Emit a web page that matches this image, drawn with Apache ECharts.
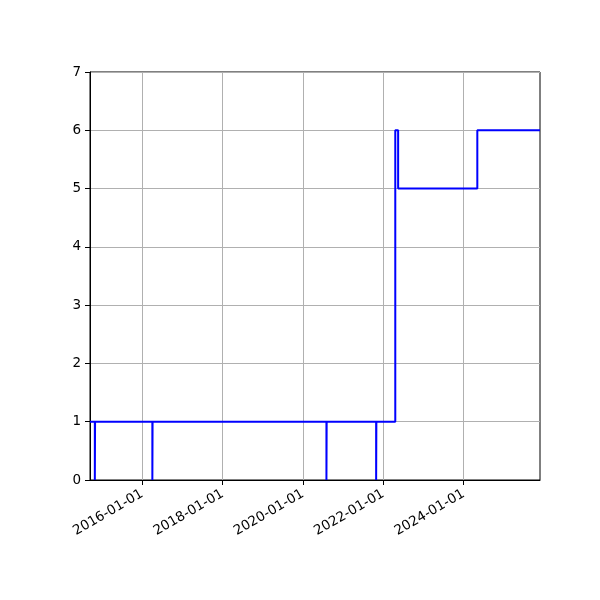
<!DOCTYPE html>
<html>
<head>
<meta charset="utf-8">
<script src="https://cdn.jsdelivr.net/npm/echarts@6/dist/echarts.min.js"></script>
<style>html,body{margin:0;padding:0;background:#fff}#c{width:600px;height:600px}</style>
</head>
<body>
<div id="c"></div>
<script>
const dates = ['2014-09-13','2014-10-27','2014-10-29','2016-04-02','2016-04-04','2020-08-02','2020-08-04','2021-10-28','2021-10-30','2022-04-20','2022-05-16','2024-05-05','2025-11-26'];
const values = [1,0,1,0,1,0,1,0,1,6,5,6,6];
const xTicks = ['2016-01-01','2018-01-01','2020-01-01','2022-01-01','2024-01-01'];
const yMin = 0, yMax = 7, yStep = 1;

const parse = s => { const p = s.split('-').map(Number); return new Date(p[0], p[1]-1, p[2]).getTime(); };
const pad = n => (n < 10 ? '0' : '') + n;
const fmt = v => { const d = new Date(v); return d.getFullYear() + '-' + pad(d.getMonth()+1) + '-' + pad(d.getDate()); };

const font = 'DejaVu Sans';
const chart = echarts.init(document.getElementById('c'), null, {renderer: 'canvas'});
chart.setOption({
  animation: false,
  backgroundColor: '#fff',
  grid: {left: 90, right: 60, top: 72, bottom: 120, show: true, borderColor: '#000', borderWidth: 1, backgroundColor: 'transparent'},
  xAxis: {
    type: 'value',
    min: parse(dates[0]),
    max: parse(dates[dates.length-1]),
    axisLine: {lineStyle: {color: '#000', width: 1}},
    axisTick: {show: true, length: 5, lineStyle: {color: '#000', width: 1}, customValues: xTicks.map(parse)},
    axisLabel: {color: '#000', fontFamily: font, fontSize: 13.5, rotate: 30, margin: 13, interval: 0, customValues: xTicks.map(parse), formatter: v => fmt(v), hideOverlap: false},
    splitLine: {show: true, lineStyle: {color: '#b0b0b0', width: 1}}
  },
  yAxis: {
    type: 'value',
    min: yMin, max: yMax, interval: yStep,
    axisLine: {show: true, lineStyle: {color: '#000', width: 1}},
    axisTick: {show: true, length: 5, lineStyle: {color: '#000', width: 1}},
    axisLabel: {color: '#000', fontFamily: font, fontSize: 13.5, margin: 9},
    splitLine: {show: true, lineStyle: {color: '#b0b0b0', width: 1}}
  },
  series: [{
    type: 'line',
    step: 'end',
    data: dates.map((d, i) => [parse(d), values[i]]),
    showSymbol: false,
    lineStyle: {color: '#0000ff', width: 2},
    clip: true
  }]
});
</script>
</body>
</html>
